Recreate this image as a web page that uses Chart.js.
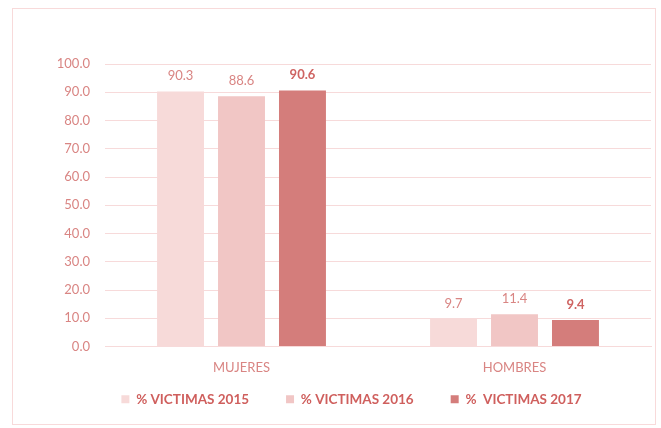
<!DOCTYPE html>
<html lang="es">
<head>
<meta charset="UTF-8">
<title>% Victimas por sexo</title>
<script src="https://cdn.jsdelivr.net/npm/chart.js"></script>
<style>
  body { margin: 0; background: #fff; }
  #wrap { position: relative; width: 661px; height: 428px; }
  #frame { position: absolute; left: 12px; top: 8px; width: 644px; height: 417px; border: 1px solid #f8dada; box-sizing: border-box; }
  canvas { position: absolute; left: 0; top: 0; }
</style>
</head>
<body>
<div id="wrap">
  <div id="frame"></div>
  <canvas id="myChart" width="661" height="428"></canvas>
</div>
<script>
const categories = ['MUJERES', 'HOMBRES'];
const victimas2015 = [90.3, 9.7];
const victimas2016 = [88.6, 11.4];
const victimas2017 = [90.6, 9.4];
const yTicks = [0, 10, 20, 30, 40, 50, 60, 70, 80, 90, 100];

const textColor = '#d98583';
const gridColor = '#f7dada';

// value labels above each bar
const valueLabels = {
  id: 'valueLabels',
  afterDatasetsDraw(chart) {
    const ctx = chart.ctx;
    ctx.save();
    ctx.textAlign = 'center';
    ctx.textBaseline = 'bottom';
    chart.data.datasets.forEach((ds, i) => {
      const meta = chart.getDatasetMeta(i);
      ctx.font = (i === 2 ? 'bold ' : '') + '13px Lato';
      ctx.fillStyle = i === 2 ? '#cf6462' : textColor;
      meta.data.forEach((bar, j) => {
        ctx.fillText(ds.data[j].toFixed(1), bar.x, bar.y - 9);
      });
    });
    ctx.restore();
  }
};

// legend has big padding for item spacing; pull it up closer to the axis
const legendShift = {
  id: 'legendShift',
  afterLayout(chart) {
    if (chart.legend) {
      chart.legend.top -= 21;
      chart.legend.bottom -= 21;
    }
  }
};

new Chart(document.getElementById('myChart'), {
  type: 'bar',
  data: {
    labels: categories,
    datasets: [
      { label: '% VICTIMAS 2015', data: victimas2015, backgroundColor: '#f7dad9' },
      { label: '% VICTIMAS 2016', data: victimas2016, backgroundColor: '#f1c6c5' },
      { label: '%  VICTIMAS 2017', data: victimas2017, backgroundColor: '#d47d7b' }
    ]
  },
  options: {
    responsive: false,
    animation: false,
    layout: { padding: { top: 64, left: 52, right: 10, bottom: -9 } },
    datasets: { bar: { categoryPercentage: 0.67, barPercentage: 0.77 } },
    plugins: {
      tooltip: { enabled: false },
      legend: {
        position: 'bottom',
        labels: {
          color: '#cf5f5d',
          font: { family: 'Lato', size: 13.5, weight: 'bold' },
          boxWidth: 8,
          boxHeight: 8,
          padding: 37
        }
      }
    },
    scales: {
      x: {
        grid: { display: false },
        border: { color: gridColor },
        ticks: { color: textColor, font: { family: 'Lato', size: 13 }, padding: 6 },
        afterFit(scale) { scale.height = 30; }
      },
      y: {
        min: 0,
        max: 100,
        afterBuildTicks(scale) { scale.ticks = yTicks.map(v => ({ value: v })); },
        grid: { color: gridColor, drawTicks: false },
        border: { display: false },
        ticks: {
          color: textColor,
          font: { family: 'Lato', size: 13 },
          padding: 15,
          callback: v => v.toFixed(1)
        },
        afterFit(scale) { scale.width = 53; }
      }
    }
  },
  plugins: [valueLabels, legendShift]
});
</script>
</body>
</html>
